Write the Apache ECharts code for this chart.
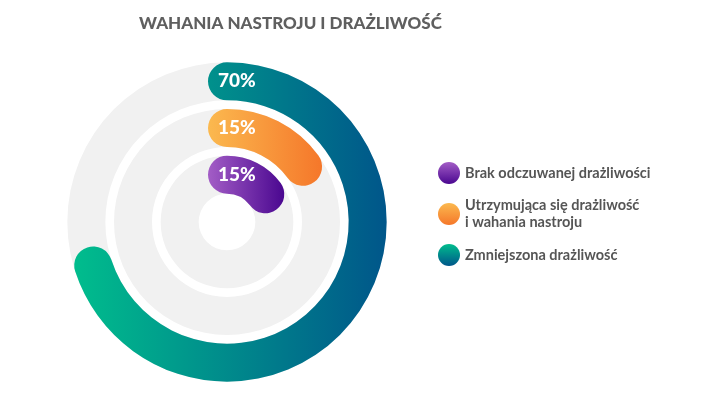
<!DOCTYPE html>
<html lang="pl">
<head>
    <meta charset="UTF-8">
    <title>Wahania nastroju i drażliwość</title>
    <script src="https://cdn.jsdelivr.net/npm/echarts@6/dist/echarts.min.js"></script>
    <style>
        html, body { margin: 0; padding: 0; background: #fff; }
        #chart { width: 720px; height: 397px; }
    </style>
</head>
<body>
<div id="chart"></div>
<script>
    // dane ---------------------------
    var titleText = 'WAHANIA NASTROJU I DRAŻLIWOŚĆ';
    var categories = ['Brak odczuwanej drażliwości', 'Utrzymująca się drażliwość\ni wahania nastroju', 'Zmniejszona drażliwość'];
    var values = [15, 15, 70];
    var barColors = [['#a35dc6', '#4a0790'], ['#fbb94f', '#f5772a'], ['#00bd8d', '#00568a']];

    function grad(c, vertical) {
        return new echarts.graphic.LinearGradient(0, 0, vertical ? 0 : 1, vertical ? 1 : 0, [
            {offset: 0, color: c[0]},
            {offset: 1, color: c[1]}
        ]);
    }

    var chart = echarts.init(document.getElementById('chart'));

    var series = categories.map(function (name, i) {
        return {
            name: name,
            type: 'bar',
            coordinateSystem: 'polar',
            stack: 'ring',
            barWidth: 38,
            roundCap: true,
            showBackground: i === 0,
            backgroundStyle: {color: '#f1f1f1'},
            itemStyle: {color: grad(barColors[i], false)},
            label: {
                show: true,
                position: 'insideStart',
                color: '#fff',
                fontFamily: 'Lato',
                fontWeight: 900,
                fontSize: 19,
                offset: [5, 0],
                formatter: '{c}%'
            },
            data: categories.map(function (c, j) { return j === i ? values[i] : '-'; })
        };
    });

    var option = {
        animation: false,
        title: {
            text: titleText,
            left: 134,
            top: 10,
            textStyle: {color: '#5f5f5f', fontFamily: 'Lato', fontWeight: 900, fontSize: 17}
        },
        polar: {center: [227, 222], radius: [24, 164]},
        angleAxis: {
            type: 'value', max: 100, startAngle: 90,
            axisLine: {show: false}, axisTick: {show: false}, axisLabel: {show: false}, splitLine: {show: false}
        },
        radiusAxis: {
            type: 'category', data: categories,
            axisLine: {show: false}, axisTick: {show: false}, axisLabel: {show: false}, splitLine: {show: false}
        },
        legend: {
            orient: 'vertical',
            left: 433,
            top: 157,
            icon: 'circle',
            itemWidth: 22,
            itemHeight: 22,
            itemGap: 13,
            textStyle: {color: '#555', fontFamily: 'Lato', fontWeight: 'bold', fontSize: 14.5, lineHeight: 17},
            data: categories.map(function (c, i) {
                return {name: c, itemStyle: {color: grad([barColors[i][0], barColors[i][1]], true)}};
            })
        },
        series: series
    };
    chart.setOption(option);
</script>
</body>
</html>
